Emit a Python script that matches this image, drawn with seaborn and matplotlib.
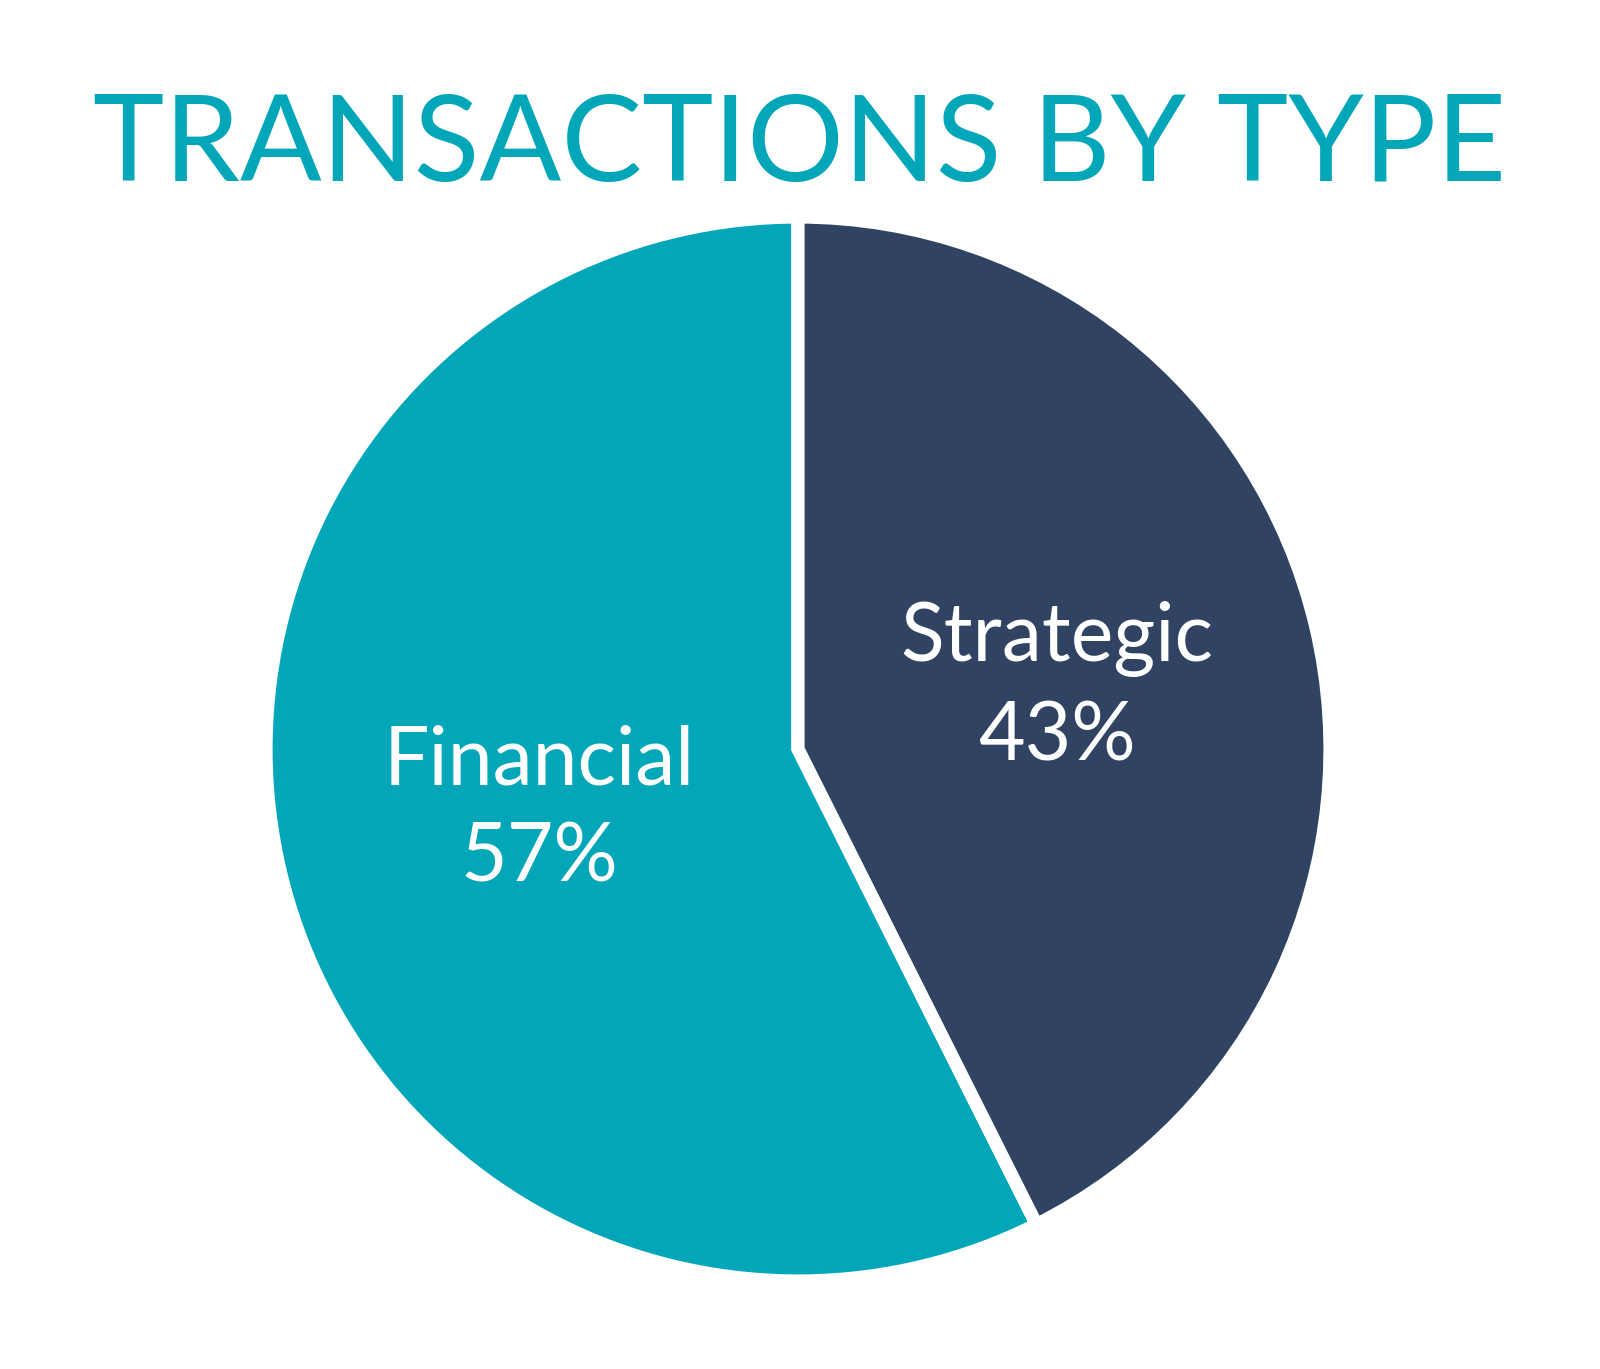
import matplotlib.pyplot as plt
import seaborn as sns

# data
categories = ['Financial', 'Strategic']
shares = [57.4, 42.6]
colors = ['#02A6B9', '#314362']
title = 'TRANSACTIONS BY TYPE'

sns.set_style('white')
plt.rcParams['font.family'] = ['Lato', 'DejaVu Sans']

fig = plt.figure(figsize=(16, 13.69), dpi=100)
# pie axes: center about (798, 749) px, radius ~526 px
cx, cy, r_px = 798, 749, 532
ax = fig.add_axes([(cx - r_px) / 1600, (1369 - cy - r_px) / 1369,
                   2 * r_px / 1600, 2 * r_px / 1369])

labels_iter = iter(categories)
wedges, texts, autotexts = ax.pie(
    shares,
    colors=colors,
    startangle=90,
    counterclock=True,
    autopct=lambda p: f'{next(labels_iter)}\n{p:.0f}%',
    pctdistance=0.5,
    wedgeprops=dict(edgecolor='white', linewidth=9.5),
    textprops=dict(color='white', fontsize=58),
)
for t in autotexts:
    t.set_linespacing(1.38)
ax.set_xlim(-1, 1)
ax.set_ylim(-1, 1)
ax.set_aspect('auto')
ax.axis('off')

fig.text(799.5 / 1600, 1 - 181.5 / 1369, title, ha='center', va='baseline',
         color='#02A6B9', fontsize=87)

plt.savefig('out.png', dpi=100, facecolor='white')
